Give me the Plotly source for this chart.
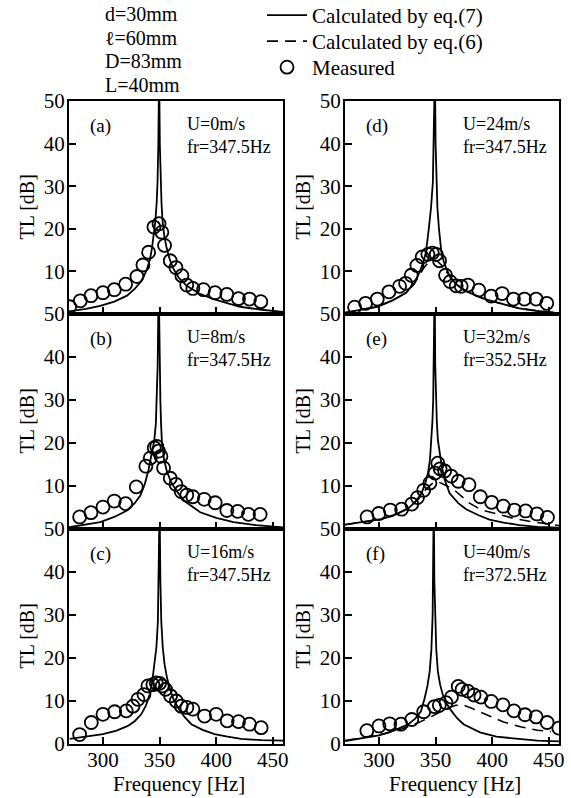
import plotly.graph_objects as go

W, H = 571, 798

# ---------------- data ----------------
panel_names = ["(a)", "(b)", "(c)", "(d)", "(e)", "(f)"]
flow_speeds = ["U=0m/s", "U=8m/s", "U=16m/s", "U=24m/s", "U=32m/s", "U=40m/s"]
res_freqs = ["fr=347.5Hz", "fr=347.5Hz", "fr=347.5Hz", "fr=347.5Hz", "fr=352.5Hz", "fr=372.5Hz"]
header_lines = ["d=30mm", "\u2113=60mm", "D=83mm", "L=40mm"]
legend_names = ["Calculated by eq.(7)", "Calculated by eq.(6)", "Measured"]
x_ticks = [300, 350, 400, 450]
y_ticks = [0, 10, 20, 30, 40, 50]

# (a)
a_meas_f = [270.6, 280.0, 289.4, 300.0, 310.0, 320.0, 330.0, 335.3, 340.3, 345.0, 349.5, 352.0,
            354.4, 359.4, 364.4, 369.7, 374.0, 379.4, 388.8, 399.0, 409.4, 419.7, 429.4, 439.4]
a_meas_tl = [1.7, 3.1, 4.3, 5.0, 5.7, 7.0, 8.8, 11.5, 14.5, 20.4, 21.2, 19.2,
             16.1, 12.5, 10.9, 9.0, 6.8, 6.0, 5.7, 5.0, 4.6, 3.6, 3.5, 2.9]
a_eq7_f = [270, 285, 297.6, 310, 321.2, 328, 332.9, 336, 338.8, 341.5, 343.2, 345, 346.2, 347.4,
           348.2, 348.9, 349.6, 350.2, 350.9, 351.7, 352.7, 354.2, 356.4, 359, 362.3, 367, 374,
           385, 397.6, 410, 421, 440, 459]
a_eq7_tl = [0.6, 1.2, 1.9, 2.9, 4.3, 5.9, 7.4, 8.8, 10.5, 12.8, 15.3, 18.5, 21.6, 26,
            31, 40, 58, 40, 31, 26, 21.6, 18.2, 15.3, 12.8, 10.6, 8.5, 6.6,
            4.8, 3.5, 2.5, 1.7, 1.0, 0.5]

# (b)
b_meas_f = [279.4, 289.4, 300.0, 310.0, 320.0, 329.4, 337.9, 341.8, 345.3, 347.5, 349.1, 351.2,
            353.5, 359.4, 364.4, 369.1, 374.0, 379.4, 389.4, 399.1, 409.4, 419.0, 428.5, 438.8]
b_meas_tl = [2.8, 3.8, 5.1, 6.5, 5.9, 9.8, 14.6, 16.5, 18.9, 19.2, 18.1, 16.9,
             14.2, 11.8, 10.4, 8.7, 7.9, 7.5, 6.9, 6.1, 4.3, 4.1, 3.4, 3.4]
b_eq7_f = [270, 285, 297.6, 310, 321.2, 328, 333, 337, 340.3, 343, 345.3, 346.7, 347.6, 348.3,
           349.2, 350.0, 350.7, 351.3, 352, 354, 356.5, 360, 365.3, 372, 385.9, 400, 415.3, 435, 459]
b_eq7_tl = [0.4, 1.0, 1.6, 2.8, 4.3, 6.0, 7.8, 10.5, 13.8, 17.5, 20.5, 24.5, 29.9, 38,
            58, 38, 29.9, 24.5, 20.5, 16.0, 13.4, 11.0, 8.7, 6.5, 3.9, 2.6, 1.6, 0.9, 0.4]

# (c)
c_meas_f = [279.4, 289.7, 300.0, 310.3, 320.6, 326.5, 330.9, 336.2, 339.7, 344.1, 347.1, 350.0, 352.3,
            355.3, 359.7, 364.7, 369.1, 374.1, 379.4, 389.7, 400.0, 409.7, 419.7, 429.4, 439.7]
c_meas_tl = [2.2, 5.0, 6.9, 7.5, 7.7, 8.8, 10.4, 11.5, 13.5, 13.8, 14.2, 14.1, 13.5,
             12.7, 11.2, 10.0, 8.8, 8.5, 8.1, 6.5, 6.9, 5.4, 5.2, 4.6, 3.8]
c_eq7_f = [270.6, 285, 300, 312, 322, 328, 333.8, 338, 341.2, 343.5, 345.6, 347.2, 348.5, 349.3,
           350, 350.7, 351.5, 352.8, 354.4, 356.5, 358.8, 362, 366.2, 372, 378, 388, 398.5, 410,
           422, 440, 459]
c_eq7_tl = [1.2, 1.7, 2.3, 3.1, 4.2, 5.3, 6.9, 9.0, 11.5, 14.5, 18.5, 22.5, 28.5, 38,
            56, 38, 28.5, 22.5, 18.5, 15.5, 13.1, 10.6, 8.5, 6.3, 4.6, 3.3, 2.3, 1.7,
            1.2, 0.9, 0.8]

# (d)
d_meas_f = [278.5, 288.2, 298.5, 308.8, 318.2, 323.5, 328.5, 333.5, 338.2, 343.2, 347.1, 350.6, 353.5,
            358.8, 362.9, 368.2, 372.6, 378.5, 388.2, 399.1, 408.8, 418.8, 428.5, 438.8, 448.2]
d_meas_tl = [1.6, 2.5, 3.5, 5.2, 6.5, 7.2, 9.1, 11.4, 13.4, 14.0, 14.3, 14.0, 12.5,
             9.1, 7.6, 6.6, 6.5, 6.8, 5.6, 4.2, 4.8, 3.5, 3.5, 3.5, 2.5]
d_eq7_f = [270, 285, 298.5, 312, 324, 331, 336, 339, 341.5, 344, 346, 347.6, 348.6, 349.4,
           350.0, 350.6, 351.6, 353, 355, 357, 359.4, 363, 368, 375, 383, 391, 400, 412, 424, 440, 458]
d_eq7_tl = [0.3, 1.0, 1.7, 3.2, 5.0, 7.2, 9.9, 12, 14.5, 20, 25, 31, 40, 58,
            40, 31, 25, 20, 14.8, 12.5, 10.7, 8.6, 7.0, 5.6, 4.6, 3.7, 3.0, 2.1, 1.3, 0.7, 0.2]
d_eq6_f = [270, 285, 298.5, 312, 324, 331, 336, 340, 344, 348, 352, 356, 360, 365, 372, 383, 400, 424, 458]
d_eq6_tl = [0.3, 1.0, 1.7, 3.2, 5.0, 7.0, 9.2, 11.0, 12.2, 12.6, 12.3, 11.3, 9.8, 8.0, 6.2, 4.6, 3.0, 1.3, 0.2]

# (e)
e_meas_f = [289.5, 299.8, 310.0, 320.0, 329.0, 334.0, 339.5, 345.0, 349.5, 352.0, 354.0, 358.0,
            363.8, 370.0, 379.5, 389.5, 399.5, 409.8, 419.5, 429.5, 439.5, 448.8]
e_meas_tl = [2.8, 3.6, 4.4, 4.6, 5.8, 7.3, 9.0, 10.7, 13.0, 15.3, 14.0, 13.5,
             12.3, 11.1, 10.3, 7.5, 6.2, 5.3, 4.4, 4.2, 3.5, 2.7]
e_eq7_f = [270, 285, 302, 315, 325.6, 332, 337.3, 340.5, 343.2, 345, 346.2, 347.2, 347.9, 348.6,
           349.2, 349.7, 350.3, 351.1, 352, 353.5, 355.5, 358, 362.4, 370, 377, 388, 397.6, 410,
           424, 440, 459]
e_eq7_tl = [1.0, 1.6, 2.3, 3.4, 4.7, 6.3, 8.2, 10.3, 12.9, 16, 20.7, 25, 30, 38,
            58, 38, 30, 25, 20.7, 17.6, 14.5, 11.5, 8.3, 6.0, 4.6, 3.2, 2.2, 1.5,
            0.9, 0.5, 0.3]
e_eq6_f = [270, 285, 302, 315, 325, 335, 342, 348, 352, 357, 362, 366, 372, 380, 390, 405, 420, 435, 450, 459]
e_eq6_tl = [1.0, 1.6, 2.3, 3.4, 4.8, 7.0, 9.4, 10.8, 11.0, 10.4, 9.8, 9.2, 7.8, 6.0, 4.5, 3.5, 2.4, 1.7, 1.1, 0.8]

# (f)
f_meas_f = [289.3, 300.0, 309.5, 319.4, 329.0, 339.5, 349.0, 353.3, 359.2, 364.0, 370.0, 373.4,
            378.5, 384.0, 390.0, 399.2, 409.5, 419.2, 429.0, 438.8, 448.5, 458.8]
f_meas_tl = [3.1, 4.2, 4.7, 4.6, 5.7, 7.5, 8.7, 9.0, 9.6, 10.9, 13.4, 12.7,
             12.3, 11.4, 10.9, 9.9, 9.1, 7.7, 6.8, 6.3, 5.0, 3.7]
f_eq7_f = [270, 285, 300, 312, 325.4, 332, 337.1, 340.5, 342.8, 344.8, 346.3, 347.4, 347.9, 348.4,
           348.9, 349.6, 350.6, 352, 354, 356.3, 360, 364, 369, 374.7, 382, 389.2, 403.7, 424, 440, 459]
f_eq7_tl = [0.7, 1.3, 2.0, 3.0, 4.5, 5.9, 7.6, 10.8, 13.5, 16.9, 22, 30, 38, 58,
            38, 30, 22, 16.9, 13.8, 11.5, 9.3, 7.7, 6.0, 4.6, 3.6, 2.7, 1.7, 1.1, 0.8, 0.6]
f_eq6_f = [270, 290, 305, 320, 335, 345, 355, 362, 368, 374, 382, 395, 410, 425, 440, 452]
f_eq6_tl = [0.8, 1.7, 2.4, 3.5, 5.0, 6.2, 7.6, 8.5, 9.0, 9.1, 8.3, 6.8, 5.1, 4.0, 3.2, 2.9]

meas_f = [a_meas_f, b_meas_f, c_meas_f, d_meas_f, e_meas_f, f_meas_f]
meas_tl = [a_meas_tl, b_meas_tl, c_meas_tl, d_meas_tl, e_meas_tl, f_meas_tl]
eq7_f = [a_eq7_f, b_eq7_f, c_eq7_f, d_eq7_f, e_eq7_f, f_eq7_f]
eq7_tl = [a_eq7_tl, b_eq7_tl, c_eq7_tl, d_eq7_tl, e_eq7_tl, f_eq7_tl]
eq6_f = [None, None, None, d_eq6_f, e_eq6_f, f_eq6_f]
eq6_tl = [None, None, None, d_eq6_tl, e_eq6_tl, f_eq6_tl]

# ---------------- layout geometry (pixels) ----------------
FONT = "Liberation Serif, Times New Roman, serif"
col_x = [(69, 283), (345, 559)]
row_y = [(101, 314), (314, 529), (529, 744)]
legend_centers = [18, 44, 70]


def px_x(p):
    return p / W


def px_y(p):
    return 1 - p / H


fig = go.Figure()
layout = dict(
    width=W, height=H, autosize=False,
    margin=dict(l=0, r=0, t=0, b=0, pad=0, autoexpand=False),
    paper_bgcolor="white", plot_bgcolor="white",
    font=dict(family=FONT, size=20, color="black"),
    showlegend=True,
)
for k, lid in enumerate(["legend", "legend2", "legend3"]):
    layout[lid] = dict(
        x=px_x(262), y=px_y(legend_centers[k] - 23), xanchor="left", yanchor="top",
        bgcolor="rgba(0,0,0,0)", font=dict(family=FONT, size=21, color="black"),
        itemwidth=40,
    )
annotations = []

for i in range(6):
    col = i // 3
    row = i % 3
    n = i + 1
    xs = "" if n == 1 else str(n)
    xref = "x" + xs
    yref = "y" + xs
    x0, x1 = col_x[col]
    y0, y1 = row_y[row]
    ytext = [str(v) for v in y_ticks]
    if row < 2:
        ytext[0] = ""  # shared boundary: the panel below shows "50" there
    layout["xaxis" + xs] = dict(
        domain=[px_x(x0), px_x(x1)], anchor=yref, range=[270, 459],
        tickvals=x_ticks, ticks="inside", ticklen=7, tickwidth=1.5, tickcolor="black",
        showline=True, mirror=True, linecolor="black", linewidth=2,
        showgrid=False, zeroline=False, showticklabels=(row == 2), automargin=False,
        ticklabelstandoff=-4,
        tickfont=dict(family=FONT, size=21, color="black"),
    )
    layout["yaxis" + xs] = dict(
        domain=[px_y(y1), px_y(y0)], anchor=xref, range=[0, 50],
        tickvals=y_ticks, ticktext=ytext, ticks="inside", ticklen=7, tickwidth=1.5,
        tickcolor="black", showline=True, mirror=True, linecolor="black", linewidth=2,
        showgrid=False, zeroline=False, automargin=False, ticklabelstandoff=-2,
        tickfont=dict(family=FONT, size=21, color="black"),
    )

    fig.add_trace(go.Scatter(
        x=eq7_f[i], y=eq7_tl[i], mode="lines", xaxis=xref, yaxis=yref,
        line=dict(color="black", width=1.8), name=legend_names[0],
        showlegend=(i == 0), legend="legend",
    ))
    if eq6_f[i] is not None:
        fig.add_trace(go.Scatter(
            x=eq6_f[i], y=eq6_tl[i], mode="lines", xaxis=xref, yaxis=yref,
            line=dict(color="black", width=1.6, dash="11px,7px"), name=legend_names[1],
            showlegend=(i == 3), legend="legend2",
        ))
    fig.add_trace(go.Scatter(
        x=meas_f[i], y=meas_tl[i], mode="markers", xaxis=xref, yaxis=yref,
        marker=dict(symbol="circle-open", size=13, color="black", line=dict(width=1.8)),
        name=legend_names[2], showlegend=(i == 0), legend="legend3",
    ))

    # panel texts
    annotations.append(dict(
        xref="paper", yref="paper", x=px_x(x0 + 19), y=px_y(y0 + 25),
        xanchor="left", yanchor="middle", text=panel_names[i], showarrow=False,
        font=dict(family=FONT, size=19, color="black"),
    ))
    annotations.append(dict(
        xref="paper", yref="paper", x=px_x(x0 + 116), y=px_y(y0 + 34),
        xanchor="left", yanchor="middle", align="left",
        text=flow_speeds[i] + "<br>" + res_freqs[i], showarrow=False,
        font=dict(family=FONT, size=18, color="black"),
    ))
    annotations.append(dict(
        xref="paper", yref="paper", x=px_x(x0 - 43), y=px_y((y0 + y1) / 2),
        xanchor="center", yanchor="middle", text="TL [dB]", textangle=-90,
        showarrow=False, font=dict(family=FONT, size=20, color="black"),
    ))
    if row == 2:
        annotations.append(dict(
            xref="paper", yref="paper", x=px_x((x0 + x1) / 2 + 3), y=px_y(784),
            xanchor="center", yanchor="middle", text="Frequency [Hz]",
            showarrow=False, font=dict(family=FONT, size=21, color="black"),
        ))

for k, line in enumerate(header_lines):
    annotations.append(dict(
        xref="paper", yref="paper", x=px_x(103), y=px_y(14 + 23.7 * k),
        xanchor="left", yanchor="middle", text=line, showarrow=False,
        font=dict(family=FONT, size=20, color="black"),
    ))

layout["annotations"] = annotations
fig.update_layout(**layout)
fig.write_html("out.html")
